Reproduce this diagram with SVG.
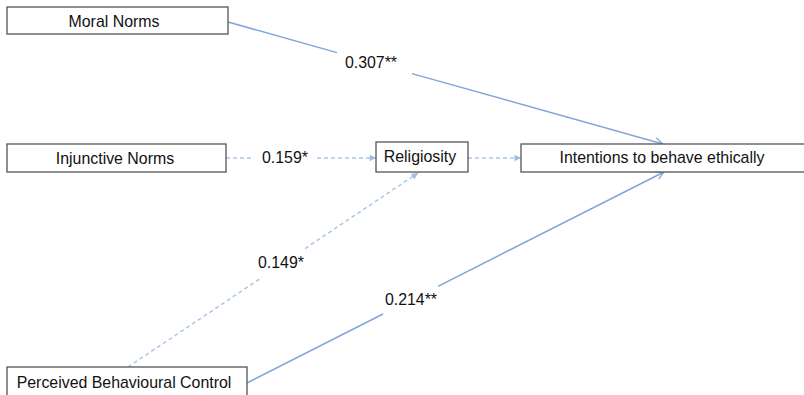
<svg xmlns="http://www.w3.org/2000/svg" width="804" height="395" viewBox="0 0 804 395">
<style>
.box{fill:#fff;stroke:#555;stroke-width:1.3}
.t{font-family:"Liberation Sans",Arial,sans-serif;font-size:15.9px;fill:#111;text-anchor:middle}
.s{fill:none;stroke:#80a6d8;stroke-width:1.5}
.d{fill:none;stroke:#adc6e8;stroke-width:1.5;stroke-dasharray:4 3}
</style>
<defs>
<marker id="open" viewBox="0 0 10 10" refX="9" refY="5" markerWidth="10" markerHeight="10" markerUnits="userSpaceOnUse" orient="auto">
<path d="M1,1 L9,5 L1,9" fill="none" stroke="#80a6d8" stroke-width="1.3"/>
</marker>
<marker id="fill" viewBox="0 0 10 10" refX="9" refY="5" markerWidth="8" markerHeight="8" markerUnits="userSpaceOnUse" orient="auto">
<path d="M1,1 L9,5 L1,9 Z" fill="#9dbbe4"/>
</marker>
</defs>
<g id="connectors">
<line class="s" x1="228" y1="22" x2="337" y2="52.6"/>
<line class="s" x1="412" y1="73.6" x2="663" y2="144" marker-end="url(#open)"/>
<text class="t" x="371" y="68">0.307**</text>
<line class="d" x1="226" y1="158" x2="254" y2="158"/>
<line class="d" x1="317" y1="158" x2="376" y2="158" marker-end="url(#fill)"/>
<text class="t" x="285" y="163">0.159*</text>
<line class="d" x1="468" y1="158" x2="521" y2="158" marker-end="url(#fill)"/>
<line class="d" x1="128" y1="367" x2="262" y2="277.4"/>
<line class="d" x1="305" y1="248.6" x2="418" y2="173" marker-end="url(#fill)"/>
<text class="t" x="281" y="268">0.149*</text>
<line class="s" x1="247" y1="383" x2="383" y2="314"/>
<line class="s" x1="438" y1="286.3" x2="664" y2="172" marker-end="url(#open)"/>
<text class="t" x="411" y="305">0.214**</text>
</g>
<g id="moral"><rect class="box" x="7" y="7" width="221" height="27"/><text class="t" x="114" y="26.5">Moral Norms</text></g>
<g id="injunctive"><rect class="box" x="7" y="144" width="219" height="28"/><text class="t" x="115" y="164">Injunctive Norms</text></g>
<g id="religiosity"><rect class="box" x="376" y="142" width="92" height="30"/><text class="t" x="420" y="162">Religiosity</text></g>
<g id="intentions"><rect class="box" x="521" y="144" width="290" height="28"/><text class="t" x="662" y="163">Intentions to behave ethically</text></g>
<g id="pbc"><rect class="box" x="7" y="367" width="240" height="34"/><text class="t" x="124" y="388">Perceived Behavioural Control</text></g>
</svg>
